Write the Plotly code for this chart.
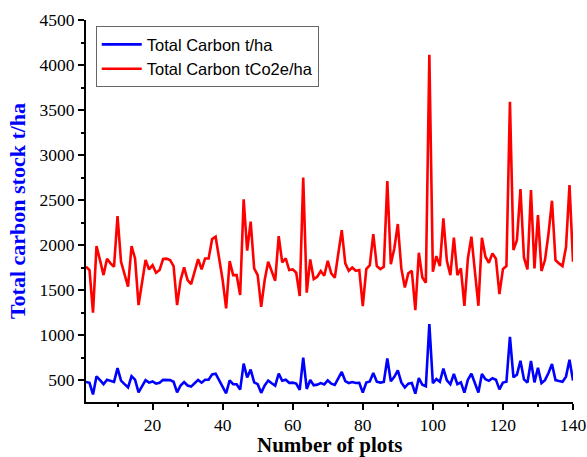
import plotly.graph_objects as go

plots = list(range(1, 141))

carbon_tco2e = [
    1759, 1722, 1248, 1988, 1833, 1666, 1848, 1796, 1759, 2322,
    1814, 1666, 1537, 1988, 1851, 1333, 1611, 1833, 1729, 1777,
    1692, 1722, 1844, 1848, 1833, 1766, 1333, 1611, 1751, 1611,
    1566, 1703, 1844, 1729, 1851, 1851, 2066, 2092, 1833, 1611,
    1296, 1822, 1666, 1666, 1444, 2507, 1937, 2259, 1740, 1666,
    1314, 1611, 1814, 1703, 1603, 2099, 1807, 1851, 1722, 1729,
    1692, 1433, 2751, 1470, 1840, 1622, 1648, 1711, 1659, 1825,
    1685, 1637, 1907, 2166, 1796, 1714, 1751, 1714, 1722, 1322,
    1733, 1777, 2122, 1766, 1733, 1759, 2711, 1788, 1962, 2233,
    1740, 1529, 1685, 1714, 1277, 1914, 1640, 1581, 4115, 1703,
    1877, 1766, 2296, 1825, 1666, 2081, 1666, 1740, 1325, 1851,
    2092, 1722, 1325, 2081, 1870, 1803, 1907, 1848, 1455, 1733,
    1766, 3592, 1944, 2055, 2622, 1862, 1729, 2611, 1740, 2333,
    1711, 1833, 2122, 2492, 1833, 1796, 1766, 1974, 2666, 1814,
]

carbon_t = [
    479, 469, 340, 542, 499, 454, 504, 489, 479, 633,
    494, 454, 419, 542, 504, 363, 439, 499, 471, 484,
    461, 469, 502, 504, 499, 481, 363, 439, 477, 439,
    427, 464, 502, 471, 504, 504, 563, 570, 499, 439,
    353, 496, 454, 454, 393, 683, 528, 616, 474, 454,
    358, 439, 494, 464, 437, 572, 492, 504, 469, 471,
    461, 390, 750, 401, 501, 442, 449, 466, 452, 497,
    459, 446, 520, 590, 489, 467, 477, 467, 469, 360,
    472, 484, 578, 481, 472, 479, 739, 487, 535, 608,
    474, 417, 459, 467, 348, 522, 447, 431, 1121, 464,
    511, 481, 626, 497, 454, 567, 454, 474, 361, 504,
    570, 469, 361, 567, 510, 491, 520, 504, 396, 472,
    481, 979, 530, 560, 714, 507, 471, 711, 474, 636,
    466, 499, 578, 679, 499, 489, 481, 538, 726, 494,
]

x_title = "Number of plots"
y_title = "Total carbon stock t/ha"

fig = go.Figure()
fig.add_trace(go.Scatter(x=plots, y=carbon_t, mode="lines",
                         name="Total Carbon t/ha",
                         line=dict(color="#0000ff", width=2.6)))
fig.add_trace(go.Scatter(x=plots, y=carbon_tco2e, mode="lines",
                         name="Total Carbon tCo2e/ha",
                         line=dict(color="#ff0000", width=2.6)))

tickfont = dict(family="Liberation Serif", size=17.5, color="black")

fig.update_layout(
    width=587, height=457,
    margin=dict(l=86, r=14, t=20, b=55),
    plot_bgcolor="white", paper_bgcolor="white",
    showlegend=True,
    legend=dict(x=0.02, y=0.984, xanchor="left", yanchor="top",
                bgcolor="white", bordercolor="#666666", borderwidth=1,
                font=dict(family="Liberation Sans", size=16.5, color="black"),
                tracegroupgap=0, itemwidth=40),
    xaxis=dict(range=[1, 140], tick0=0, dtick=20, showgrid=False, zeroline=False,
               automargin=False,
               showline=True, linecolor="black", linewidth=2,
               ticks="outside", ticklen=6, tickwidth=2, tickcolor="black",
               minor=dict(ticks="outside", ticklen=3, tickwidth=2, tickcolor="black", dtick=10, tick0=0),
               tickfont=tickfont),
    yaxis=dict(range=[256, 4500], tick0=500, dtick=500, showgrid=False, zeroline=False,
               automargin=False,
               showline=True, linecolor="black", linewidth=2,
               ticks="outside", ticklen=6, tickwidth=2, tickcolor="black",
               minor=dict(ticks="outside", ticklen=3, tickwidth=2, tickcolor="black", dtick=250, tick0=500),
               tickfont=tickfont,
               title=dict(text="<b>" + y_title + "</b>", standoff=8,
                          font=dict(family="Liberation Serif", size=22, color="#0000ff"))),
)

fig.add_annotation(text="<b>" + x_title + "</b>", xref="paper", yref="paper",
                   x=0.5, y=-0.1126, xanchor="center", yanchor="middle",
                   showarrow=False, borderpad=0,
                   font=dict(family="Liberation Serif", size=21, color="black"))

fig.write_html("out.html", config={"displayModeBar": False},
               post_script="document.body.style.margin='0px';document.body.style.overflow='hidden';")
